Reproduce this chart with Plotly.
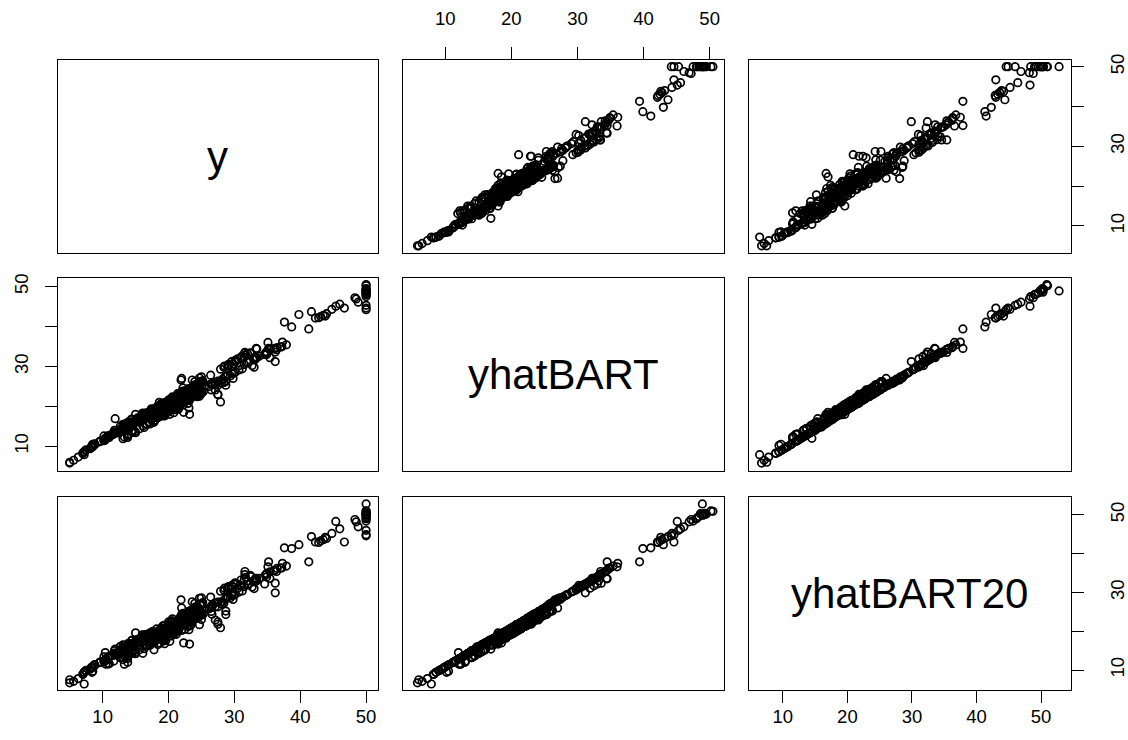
import plotly.graph_objects as go

# ---- data (read/estimated from the reference) ----
y = [
    24.0, 21.6, 34.7, 33.4, 36.2, 28.7, 22.9, 27.1, 16.5, 18.9,
    15.0, 18.9, 21.7, 20.4, 18.2, 19.9, 23.1, 17.5, 20.2, 18.2,
    13.6, 19.6, 15.2, 14.5, 15.6, 13.9, 16.6, 14.8, 18.4, 21.0,
    12.7, 14.5, 13.2, 13.1, 13.5, 18.9, 20.0, 21.0, 24.7, 30.8,
    34.9, 26.6, 25.3, 24.7, 21.2, 19.3, 20.0, 16.6, 14.4, 19.4,
    19.7, 20.5, 25.0, 23.4, 18.9, 35.4, 24.7, 31.6, 23.3, 19.6,
    18.7, 16.0, 22.2, 25.0, 33.0, 23.5, 19.4, 22.0, 17.4, 20.9,
    24.2, 21.7, 22.8, 23.4, 24.1, 21.4, 20.0, 20.8, 21.2, 20.3,
    28.0, 23.9, 24.8, 22.9, 23.9, 26.6, 22.5, 22.2, 23.6, 28.7,
    22.6, 22.0, 22.9, 25.0, 20.6, 28.4, 21.4, 38.7, 43.8, 33.2,
    27.5, 26.5, 18.6, 19.3, 20.1, 19.5, 19.5, 20.4, 19.8, 19.4,
    21.7, 22.8, 18.8, 18.7, 18.5, 18.3, 21.2, 19.2, 20.4, 19.3,
    22.0, 20.3, 20.5, 17.3, 18.8, 21.4, 15.7, 16.2, 18.0, 14.3,
    19.2, 19.6, 23.0, 18.4, 15.6, 18.1, 17.4, 17.1, 13.3, 17.8,
    14.0, 14.4, 13.4, 15.6, 11.8, 13.8, 15.6, 14.6, 17.8, 15.4,
    21.5, 19.6, 15.3, 19.4, 17.0, 15.6, 13.1, 41.3, 24.3, 23.3,
    27.0, 50.0, 50.0, 50.0, 22.7, 25.0, 50.0, 23.8, 23.8, 22.3,
    17.4, 19.1, 23.1, 23.6, 22.6, 29.4, 23.2, 24.6, 29.9, 37.2,
    39.8, 36.2, 37.9, 32.5, 26.4, 29.6, 50.0, 32.0, 29.8, 34.9,
    37.0, 30.5, 36.4, 31.1, 29.1, 50.0, 33.3, 30.3, 34.6, 34.9,
    32.9, 24.1, 42.3, 48.5, 50.0, 22.6, 24.4, 22.5, 24.4, 20.0,
    21.7, 19.3, 22.4, 28.1, 23.7, 25.0, 23.3, 28.7, 21.5, 23.0,
    26.7, 21.7, 27.5, 30.1, 44.8, 50.0, 37.6, 31.6, 46.7, 31.5,
    24.3, 31.7, 41.7, 48.3, 29.0, 24.0, 25.1, 31.5, 23.7, 23.3,
    22.0, 20.1, 22.2, 23.7, 17.6, 18.5, 24.3, 20.5, 24.5, 26.2,
    24.4, 24.8, 29.6, 42.8, 21.9, 20.9, 44.0, 50.0, 36.0, 30.1,
    33.8, 43.1, 48.8, 31.0, 36.5, 22.8, 30.7, 50.0, 43.5, 20.7,
    21.1, 25.2, 24.4, 35.2, 32.4, 32.0, 33.2, 33.1, 29.1, 35.1,
    45.4, 35.4, 46.0, 50.0, 32.2, 22.0, 20.1, 23.2, 22.3, 24.8,
    28.5, 37.3, 27.9, 23.9, 21.7, 28.6, 27.1, 20.3, 22.5, 29.0,
    24.8, 22.0, 26.4, 33.1, 36.1, 28.4, 33.4, 28.2, 22.8, 20.3,
    16.1, 22.1, 19.4, 21.6, 23.8, 16.2, 17.8, 19.8, 23.1, 21.0,
    23.8, 23.1, 20.4, 18.5, 25.0, 24.6, 23.0, 22.2, 19.3, 22.6,
    19.8, 17.1, 19.4, 22.2, 20.7, 21.1, 19.5, 18.5, 20.6, 19.0,
    18.7, 32.7, 16.5, 23.9, 31.2, 17.5, 17.2, 23.1, 24.5, 26.6,
    22.9, 24.1, 18.6, 30.1, 18.2, 20.6, 17.8, 21.7, 22.7, 22.6,
    25.0, 19.9, 20.8, 16.8, 21.9, 27.5, 21.9, 23.1, 50.0, 50.0,
    50.0, 50.0, 50.0, 13.8, 13.8, 15.0, 13.9, 13.3, 13.1, 10.2,
    10.4, 10.9, 11.3, 12.3, 8.8, 7.2, 10.5, 7.4, 10.2, 11.5,
    15.1, 23.2, 9.7, 13.8, 12.7, 13.1, 12.5, 8.5, 5.0, 6.3,
    5.6, 7.2, 12.1, 8.3, 8.5, 5.0, 11.9, 27.9, 17.2, 27.5,
    15.0, 17.2, 17.9, 16.3, 7.0, 7.2, 7.5, 10.4, 8.8, 8.4,
    16.7, 14.2, 20.8, 13.4, 11.7, 8.3, 10.2, 10.9, 11.0, 9.5,
    14.5, 14.1, 16.1, 14.3, 11.7, 13.4, 9.6, 8.7, 8.4, 12.8,
    10.5, 17.1, 18.4, 15.4, 10.8, 11.8, 14.9, 12.6, 14.1, 13.0,
    13.4, 15.2, 16.1, 17.8, 14.9, 14.1, 12.7, 13.5, 14.9, 20.0,
    16.4, 17.7, 19.5, 20.2, 21.4, 19.9, 19.0, 19.1, 19.1, 20.1,
    19.9, 19.6, 23.2, 29.8, 13.8, 13.3, 16.7, 12.0, 14.6, 21.4,
    23.0, 23.7, 25.0, 21.8, 20.6, 21.2, 19.1, 20.6, 15.2, 7.0,
    8.1, 13.6, 20.1, 21.8, 24.5, 23.1, 19.7, 18.3, 21.2, 17.5,
    16.8, 22.4, 20.6, 23.9, 22.0, 11.9,
]

yhatBART = [
    26.2, 23.0, 33.3, 34.4, 33.6, 25.3, 20.7, 24.1, 17.9, 20.1,
    18.0, 20.7, 20.3, 19.2, 19.8, 21.1, 19.6, 18.3, 18.0, 19.0,
    14.8, 18.2, 16.6, 16.1, 16.8, 16.1, 17.2, 16.0, 19.2, 19.2,
    15.1, 16.7, 15.0, 15.5, 15.7, 20.5, 20.8, 22.2, 27.1, 30.2,
    33.5, 25.4, 23.7, 22.5, 22.2, 20.9, 19.2, 18.2, 16.8, 17.6,
    20.7, 22.1, 23.2, 22.2, 17.9, 32.2, 25.9, 33.4, 21.9, 21.0,
    17.7, 18.2, 24.6, 27.4, 29.8, 24.3, 20.6, 20.8, 19.2, 20.3,
    23.8, 23.1, 21.8, 24.2, 22.9, 22.4, 21.4, 20.0, 20.8, 21.5,
    26.4, 25.3, 23.4, 24.1, 24.7, 25.4, 23.3, 23.8, 26.6, 27.5,
    23.6, 23.2, 23.7, 23.8, 22.4, 26.0, 23.2, 39.9, 42.6, 32.4,
    25.3, 24.1, 21.0, 20.7, 21.1, 18.7, 20.1, 19.8, 20.8, 20.4,
    20.5, 23.6, 20.2, 17.6, 19.5, 19.5, 22.4, 18.1, 19.8, 19.9,
    20.8, 21.1, 19.9, 18.5, 18.2, 19.8, 17.1, 17.6, 17.2, 15.9,
    20.0, 21.0, 20.8, 17.2, 17.2, 17.3, 16.6, 16.1, 15.1, 16.4,
    15.6, 13.8, 14.4, 14.4, 14.0, 13.0, 16.2, 14.0, 16.0, 16.2,
    19.3, 18.4, 17.1, 17.8, 18.0, 16.4, 14.9, 39.4, 25.5, 22.7,
    26.0, 48.6, 50.2, 48.9, 23.9, 25.8, 48.1, 22.6, 25.0, 18.5,
    19.4, 20.5, 21.9, 24.8, 23.4, 27.6, 24.4, 26.0, 28.3, 34.9,
    43.0, 31.2, 35.4, 33.3, 25.6, 31.2, 48.4, 33.2, 30.6, 33.7,
    34.9, 31.9, 34.2, 32.5, 30.5, 48.8, 34.5, 31.5, 33.0, 33.0,
    31.9, 25.3, 42.1, 46.9, 49.3, 23.8, 23.4, 21.1, 22.4, 21.6,
    20.7, 20.5, 23.4, 25.8, 24.7, 23.6, 23.9, 26.2, 22.7, 24.4,
    25.7, 23.3, 26.3, 31.1, 44.3, 49.1, 41.1, 33.5, 44.6, 32.3,
    22.9, 32.9, 43.7, 47.2, 27.8, 25.2, 26.3, 30.5, 24.7, 22.3,
    23.2, 21.3, 21.2, 22.5, 19.2, 19.7, 22.9, 21.5, 23.5, 25.0,
    25.4, 26.0, 28.2, 42.2, 22.9, 22.1, 43.2, 50.5, 34.4, 31.5,
    32.6, 42.5, 46.1, 32.2, 34.7, 24.0, 29.1, 49.5, 42.8, 22.1,
    22.3, 26.4, 25.6, 34.5, 33.4, 31.0, 32.2, 31.9, 30.1, 36.0,
    45.1, 34.2, 45.6, 49.0, 31.2, 27.0, 21.5, 24.4, 23.5, 25.8,
    30.1, 36.1, 29.3, 25.1, 22.9, 27.4, 25.5, 21.5, 23.7, 30.2,
    26.2, 23.6, 27.8, 31.7, 34.5, 29.8, 32.2, 26.8, 24.2, 21.5,
    18.3, 20.9, 20.4, 20.4, 22.6, 18.0, 19.0, 21.0, 21.9, 22.2,
    24.8, 22.1, 21.8, 19.9, 23.8, 23.4, 21.8, 23.2, 20.7, 23.8,
    21.0, 18.7, 20.8, 21.0, 21.7, 20.1, 20.3, 19.7, 19.8, 20.2,
    19.9, 30.2, 18.3, 25.1, 29.4, 18.9, 18.6, 24.3, 25.7, 25.6,
    24.1, 25.3, 20.2, 28.5, 19.8, 21.8, 19.4, 20.7, 21.7, 21.4,
    23.6, 21.1, 21.8, 18.4, 26.6, 22.9, 23.1, 24.3, 47.5, 44.6,
    44.2, 48.0, 45.3, 12.2, 15.4, 13.4, 12.9, 12.3, 11.9, 11.6,
    12.0, 12.3, 12.9, 13.5, 10.6, 8.6, 12.1, 9.0, 11.4, 12.9,
    16.3, 18.0, 11.3, 12.6, 13.9, 14.1, 13.3, 9.9, 6.0, 7.3,
    6.5, 8.6, 13.5, 9.9, 10.5, 5.8, 16.9, 21.1, 18.4, 23.0,
    16.6, 15.6, 16.5, 14.7, 8.2, 7.9, 9.1, 11.6, 10.4, 10.2,
    15.5, 15.4, 18.4, 14.4, 13.1, 9.7, 12.6, 12.7, 12.2, 11.1,
    13.5, 15.1, 15.1, 15.5, 13.5, 14.4, 11.2, 10.5, 10.0, 14.0,
    12.1, 15.9, 17.2, 16.4, 12.4, 13.2, 13.7, 14.0, 15.3, 14.2,
    14.8, 16.4, 17.3, 16.4, 15.9, 15.1, 14.3, 14.7, 16.1, 18.6,
    17.6, 18.9, 18.5, 19.2, 19.8, 18.9, 17.6, 18.3, 20.1, 18.9,
    18.7, 20.6, 21.6, 27.0, 15.2, 14.5, 15.5, 13.6, 15.8, 20.2,
    21.8, 22.5, 23.4, 20.6, 19.4, 20.0, 20.3, 19.6, 16.6, 8.3,
    9.4, 15.0, 19.1, 20.6, 22.9, 21.9, 18.7, 19.5, 20.0, 18.7,
    18.2, 23.6, 21.6, 24.9, 21.0, 13.3,
]

yhatBART20 = [
    27.2, 22.4, 34.5, 33.6, 32.4, 24.3, 21.5, 22.9, 19.1, 19.3,
    19.6, 20.1, 20.9, 18.8, 20.6, 20.3, 20.4, 17.7, 17.4, 18.4,
    16.0, 17.6, 17.4, 16.9, 16.4, 16.9, 16.4, 17.0, 18.2, 20.0,
    16.1, 17.7, 14.8, 16.5, 14.9, 19.9, 21.8, 21.4, 28.5, 31.8,
    34.7, 24.4, 24.5, 21.7, 21.4, 21.5, 19.8, 17.4, 17.6, 16.8,
    20.1, 22.7, 24.2, 21.6, 18.9, 33.6, 25.3, 34.6, 22.5, 20.4,
    18.5, 19.0, 23.8, 28.6, 31.0, 25.1, 19.8, 20.2, 18.6, 19.5,
    24.6, 22.5, 22.6, 23.6, 23.7, 21.6, 20.6, 20.8, 20.0, 20.7,
    27.6, 24.5, 24.2, 23.3, 25.7, 26.2, 22.5, 24.6, 27.6, 28.5,
    23.0, 23.8, 24.5, 23.0, 23.2, 27.2, 22.4, 41.3, 44.2, 33.6,
    26.3, 25.1, 20.2, 20.1, 20.3, 18.1, 19.5, 20.6, 20.2, 19.8,
    21.1, 24.4, 19.4, 17.0, 20.1, 18.9, 21.6, 17.5, 20.4, 20.5,
    21.6, 20.5, 20.7, 17.9, 19.0, 20.4, 17.9, 16.8, 17.8, 16.7,
    20.6, 20.4, 21.6, 16.6, 18.0, 18.1, 17.2, 16.7, 15.9, 17.2,
    16.6, 14.6, 13.6, 15.2, 15.0, 12.0, 17.0, 15.0, 15.2, 17.0,
    20.1, 19.0, 17.9, 18.4, 17.2, 17.2, 15.9, 37.9, 26.3, 23.5,
    27.2, 50.3, 51.0, 52.8, 24.5, 26.8, 49.2, 23.2, 24.2, 17.0,
    18.8, 21.3, 22.7, 25.6, 22.8, 28.6, 25.2, 25.4, 29.3, 36.3,
    42.3, 29.9, 36.8, 34.1, 26.2, 31.8, 49.6, 33.0, 31.4, 34.9,
    36.3, 31.1, 35.4, 31.7, 31.5, 50.1, 33.5, 32.3, 32.2, 34.0,
    32.9, 26.3, 43.0, 48.2, 50.4, 23.0, 24.2, 20.5, 23.4, 22.4,
    21.5, 21.3, 24.2, 27.0, 23.9, 24.4, 24.7, 25.2, 21.9, 23.6,
    26.9, 22.5, 27.5, 32.1, 45.2, 50.0, 41.5, 35.4, 43.0, 33.3,
    23.7, 33.9, 44.4, 48.8, 28.8, 24.4, 27.1, 31.5, 25.5, 21.5,
    22.4, 20.5, 22.0, 23.3, 20.0, 18.9, 23.9, 22.3, 24.5, 25.8,
    26.2, 26.8, 29.2, 42.9, 22.1, 21.3, 43.9, 50.9, 35.6, 32.5,
    33.6, 43.3, 46.9, 33.2, 36.2, 23.2, 30.1, 50.2, 43.6, 21.3,
    21.5, 27.4, 26.4, 37.9, 34.4, 32.0, 33.0, 32.9, 31.1, 36.6,
    48.3, 35.3, 46.4, 49.9, 32.2, 26.0, 20.7, 23.6, 22.7, 26.8,
    31.1, 37.5, 30.3, 24.3, 23.5, 28.2, 26.3, 20.7, 24.5, 31.2,
    25.4, 24.4, 28.8, 32.7, 35.7, 30.6, 33.0, 27.6, 23.4, 22.3,
    19.1, 21.7, 19.6, 21.2, 23.4, 18.8, 18.4, 20.4, 22.7, 21.4,
    25.6, 22.9, 21.2, 19.3, 24.6, 24.2, 21.2, 22.4, 20.1, 24.6,
    20.4, 19.5, 20.2, 21.8, 21.1, 20.9, 19.7, 19.1, 20.4, 19.6,
    19.3, 31.4, 19.1, 24.3, 30.4, 19.5, 18.0, 25.1, 24.9, 26.6,
    23.3, 26.1, 19.6, 29.5, 19.2, 22.6, 18.8, 21.3, 22.5, 22.2,
    24.4, 20.5, 21.2, 18.9, 28.1, 22.4, 22.3, 25.1, 48.4, 44.9,
    44.6, 49.0, 46.0, 13.0, 14.6, 14.2, 13.7, 11.5, 12.7, 12.4,
    14.5, 13.1, 13.7, 14.3, 11.4, 9.4, 11.5, 9.8, 12.2, 13.7,
    17.1, 16.7, 12.1, 13.4, 14.7, 13.3, 14.1, 10.7, 7.5, 7.8,
    7.1, 9.4, 14.3, 10.7, 9.7, 6.7, 15.4, 20.9, 19.2, 21.8,
    17.4, 16.4, 17.3, 15.5, 8.9, 6.4, 9.9, 12.4, 11.2, 9.4,
    16.3, 16.2, 19.2, 15.2, 12.3, 10.5, 13.4, 13.5, 11.6, 11.9,
    14.3, 15.9, 14.3, 16.3, 14.3, 15.2, 12.0, 11.3, 10.8, 13.2,
    12.9, 16.7, 18.0, 17.2, 11.6, 14.0, 14.5, 13.2, 16.1, 15.0,
    15.6, 17.2, 18.1, 17.2, 16.7, 14.3, 15.1, 15.5, 15.3, 19.4,
    18.4, 18.3, 19.3, 20.0, 20.6, 19.7, 18.4, 17.7, 20.7, 19.7,
    19.5, 19.8, 22.4, 28.2, 16.0, 13.7, 16.3, 14.4, 15.0, 21.0,
    22.6, 23.3, 24.2, 21.4, 20.2, 19.2, 19.5, 20.4, 17.4, 8.9,
    10.2, 15.8, 19.7, 21.4, 23.7, 22.7, 19.5, 18.9, 20.8, 19.5,
    19.0, 24.4, 21.0, 25.7, 21.8, 14.1,
]

var_names = ["y", "yhatBART", "yhatBART20"]
tick_vals = [10, 20, 30, 40, 50]
x_tick_text = ["10", "20", "30", "40", "50"]
y_tick_text = ["10", "", "30", "", "50"]

series = {"y": y, "yhatBART": yhatBART, "yhatBART20": yhatBART20}
axis_ranges = {"y": [3.2, 51.8], "yhatBART": [3.68, 52.2], "yhatBART20": [4.75, 54.6]}

# ---- layout geometry (pixels of the 1128x740 page) ----
W, H = 1128, 740
col_px = [(58.3, 381.0), (406.7, 730.0), (755.0, 1079.3)]
row_px = [(54.0, 249.0), (274.0, 469.3), (495.0, 690.0)]

FONT = "Liberation Sans, Arial, Helvetica, sans-serif"
TICK_FONT = dict(family=FONT, size=18.5, color="black")

fig = go.Figure()
layout = dict(
    width=W, height=H,
    margin=dict(l=0, r=0, t=0, b=0),
    paper_bgcolor="white", plot_bgcolor="white",
    showlegend=False,
    font=dict(family=FONT, color="black"),
    annotations=[],
)

for i in range(3):          # row -> variable on vertical axis
    for j in range(3):      # column -> variable on horizontal axis
        k = i * 3 + j + 1
        sfx = "" if k == 1 else str(k)
        xname, yname = "xaxis" + sfx, "yaxis" + sfx
        xref, yref = "x" + sfx, "y" + sfx

        xa = dict(
            domain=[col_px[j][0] / W, col_px[j][1] / W],
            anchor=yref, range=axis_ranges[var_names[j]],
            showline=True, mirror=True, linecolor="black", linewidth=1,
            showgrid=False, zeroline=False, fixedrange=True,
            ticks="", showticklabels=False,
        )
        ya = dict(
            domain=[1 - row_px[i][1] / H, 1 - row_px[i][0] / H],
            anchor=xref, range=axis_ranges[var_names[i]],
            showline=True, mirror=True, linecolor="black", linewidth=1,
            showgrid=False, zeroline=False, fixedrange=True,
            ticks="", showticklabels=False,
        )
        # R pairs(): alternating axes
        if i == 0 and j == 1:
            xa.update(side="top", ticks="outside", ticklen=12, tickwidth=1, tickcolor="black",
                      showticklabels=True, tickvals=tick_vals, ticktext=x_tick_text,
                      tickfont=TICK_FONT, ticklabelstandoff=14)
        if i == 2 and j in (0, 2):
            xa.update(side="bottom", ticks="outside", ticklen=12, tickwidth=1, tickcolor="black",
                      showticklabels=True, tickvals=tick_vals, ticktext=x_tick_text,
                      tickfont=TICK_FONT, ticklabelstandoff=-3)
        if j == 0 and i == 1:
            ya.update(side="left", ticks="outside", ticklen=12, tickwidth=1, tickcolor="black",
                      showticklabels=True, tickvals=tick_vals, ticktext=y_tick_text,
                      tickfont=TICK_FONT, tickangle=-90, ticklabelstandoff=9)
        if j == 2 and i in (0, 2):
            ya.update(side="right", ticks="outside", ticklen=12, tickwidth=1, tickcolor="black",
                      showticklabels=True, tickvals=tick_vals, ticktext=y_tick_text,
                      tickfont=TICK_FONT, tickangle=-90, ticklabelstandoff=18)

        layout[xname] = xa
        layout[yname] = ya

        if i == j:
            # empty trace so the diagonal panel (frame) is drawn
            fig.add_trace(go.Scatter(x=[None], y=[None], xaxis=xref, yaxis=yref,
                                     mode="markers", hoverinfo="skip"))
            layout["annotations"].append(dict(
                text=var_names[i], xref=xref + " domain", yref=yref + " domain",
                x=0.5, y=0.5, xanchor="center", yanchor="middle", showarrow=False,
                font=dict(family=FONT, size=42, color="black"),
            ))
        else:
            fig.add_trace(go.Scatter(
                x=series[var_names[j]], y=series[var_names[i]],
                xaxis=xref, yaxis=yref, mode="markers",
                marker=dict(symbol="circle-open", size=7.5, color="black",
                            line=dict(width=1.7, color="black")),
                hoverinfo="skip",
            ))

fig.update_layout(**layout)
fig.write_html("out.html")
